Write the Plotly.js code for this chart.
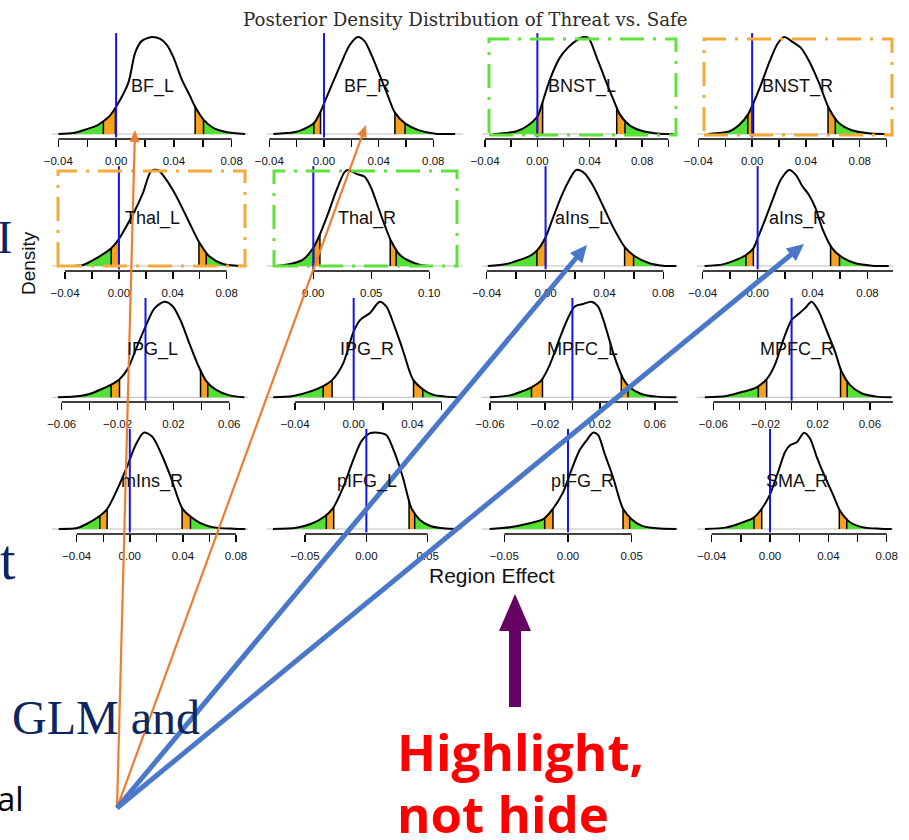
<!DOCTYPE html>
<html><head><meta charset="utf-8">
<script src="https://cdn.plot.ly/plotly-3.0.1.min.js"></script>
<style>html,body{margin:0;padding:0;background:#fff;} #chart{width:909px;height:840px;}</style>
</head><body><div id="chart"></div>
<script>
// ---------------- DATA ----------------
const regionNames = ['BF_L','BF_R','BNST_L','BNST_R','Thal_L','Thal_R','aIns_L','aIns_R',
                     'IPG_L','IPG_R','MPFC_L','MPFC_R','mIns_R','pIFG_L','pIFG_R','SMA_R'];

// posterior density curves (x = region effect, y = density relative to the peak)
const densityX = [
  [-0.0399,-0.0295,-0.0203,-0.0134,-0.0088,-0.0042,0,0.0085,0.0132,0.0178,0.0247,0.0305,0.0351,0.0397,0.0455,0.0512,0.0547,0.0605,0.067,0.076,0.0893],
  [-0.037,-0.022,-0.0148,-0.0074,-0.0025,0.0012,0.0074,0.0123,0.0185,0.0247,0.0296,0.0346,0.0407,0.0469,0.0519,0.0593,0.0691,0.0815,0.096],
  [-0.0336,-0.0158,-0.0081,0,0.0033,0.0097,0.0173,0.0237,0.030,0.0351,0.039,0.0453,0.0517,0.058,0.0631,0.0707,0.081,0.094,0.104],
  [-0.0326,-0.0167,-0.0093,-0.0032,0.0005,0.0066,0.0128,0.0189,0.0238,0.030,0.0361,0.0422,0.0496,0.0569,0.0643,0.0741,0.0864,0.0986],
  [-0.0428,-0.0267,-0.0168,-0.0057,0,0.0054,0.0116,0.0178,0.024,0.029,0.0351,0.0413,0.0475,0.0537,0.0599,0.0673,0.0772,0.0933],
  [-0.0314,-0.0171,-0.0086,0,0.0057,0.0129,0.02,0.0271,0.03,0.0371,0.0443,0.05,0.0557,0.0614,0.0671,0.0743,0.0829,0.0914,0.1],
  [-0.0392,-0.0267,-0.02,-0.0109,-0.0059,0,0.005,0.0106,0.0152,0.0208,0.0265,0.0321,0.0389,0.0457,0.0537,0.0604,0.0706,0.0797,0.0888],
  [-0.0386,-0.0253,-0.0157,-0.0085,-0.0031,0,0.0048,0.0109,0.0169,0.0229,0.0278,0.0326,0.0374,0.0422,0.0471,0.0543,0.0616,0.0712,0.0833,0.0954],
  [-0.0627,-0.0472,-0.04,-0.0317,-0.0246,-0.0186,-0.0126,-0.0067,0,0.0064,0.0136,0.0196,0.0255,0.0315,0.0375,0.0435,0.0506,0.0601,0.0708],
  [-0.0548,-0.0412,-0.0299,-0.0208,-0.0147,-0.0073,0,0.0045,0.0113,0.0177,0.0222,0.0279,0.0335,0.0403,0.0471,0.0539,0.063,0.0709],
  [-0.0601,-0.0456,-0.0371,-0.0298,-0.0225,-0.0165,-0.0092,-0.0032,0.0017,0.0078,0.0138,0.0186,0.0223,0.0259,0.0296,0.0332,0.0368,0.0417,0.0502,0.0611,0.0756],
  [-0.0664,-0.0498,-0.037,-0.0268,-0.0191,-0.0128,-0.0064,0,0.0051,0.0102,0.0153,0.0204,0.0268,0.0332,0.0383,0.0447,0.0536,0.0651,0.0766],
  [-0.0535,-0.0397,-0.0321,-0.0233,-0.0171,-0.0095,-0.002,0.0043,0.0105,0.0168,0.0231,0.0306,0.0394,0.0457,0.0532,0.0633,0.0783,0.0871],
  [-0.0761,-0.0571,-0.0448,-0.034,-0.0272,-0.019,-0.0109,-0.0041,0.0027,0.0095,0.0163,0.0231,0.0299,0.0367,0.0435,0.0516,0.0625,0.0747],
  [-0.0615,-0.0458,-0.0327,-0.0191,-0.0118,-0.0039,0.0026,0.0092,0.0157,0.0196,0.0236,0.0288,0.0353,0.0432,0.0497,0.0576,0.0694,0.0851],
  [-0.0446,-0.0297,-0.0206,-0.0114,-0.0057,0,0.0057,0.0103,0.0137,0.0183,0.0233,0.0274,0.032,0.0377,0.0434,0.048,0.0549,0.064,0.0754,0.0834]
];
const densityY = [
  [0,0.01,0.05,0.086,0.131,0.19,0.28,0.53,0.84,0.96,1.0,0.98,0.92,0.79,0.56,0.39,0.28,0.148,0.065,0.02,0],
  [0,0.017,0.05,0.11,0.23,0.355,0.56,0.72,0.91,1.0,0.96,0.82,0.61,0.39,0.22,0.11,0.04,0.003,0],
  [0,0.028,0.08,0.18,0.3,0.566,0.79,0.896,0.965,1.0,0.99,0.79,0.566,0.357,0.2,0.087,0.028,0.003,0],
  [0,0.028,0.097,0.2,0.305,0.51,0.74,0.93,1.0,0.95,0.89,0.755,0.53,0.27,0.115,0.038,0.007,0],
  [0,0.01,0.08,0.185,0.28,0.41,0.57,0.76,0.99,1.0,0.9,0.76,0.59,0.41,0.24,0.098,0.021,0],
  [0,0.028,0.069,0.19,0.33,0.55,0.79,0.98,1.0,0.96,0.93,0.81,0.62,0.43,0.26,0.12,0.052,0.014,0],
  [0,0.02,0.052,0.104,0.16,0.3,0.5,0.72,0.87,1.0,0.965,0.84,0.63,0.41,0.2,0.104,0.028,0.003,0],
  [0,0.017,0.063,0.115,0.184,0.29,0.46,0.69,0.9,1.0,0.95,0.83,0.74,0.6,0.39,0.184,0.09,0.028,0.003,0],
  [0,0.014,0.035,0.084,0.133,0.19,0.30,0.51,0.74,0.93,1.0,0.95,0.79,0.56,0.34,0.17,0.077,0.02,0],
  [0,0.014,0.059,0.118,0.18,0.35,0.69,0.81,0.885,1.0,0.95,0.74,0.495,0.19,0.084,0.028,0.007,0],
  [0,0.02,0.06,0.105,0.18,0.34,0.62,0.83,0.95,0.976,1.0,0.95,0.82,0.65,0.47,0.32,0.2,0.105,0.035,0.007,0],
  [0,0.014,0.059,0.105,0.19,0.34,0.6,0.81,0.87,0.93,1.0,0.91,0.7,0.48,0.27,0.13,0.042,0.007,0],
  [0,0.01,0.055,0.13,0.207,0.41,0.65,0.87,1.0,0.96,0.8,0.55,0.217,0.13,0.062,0.017,0.003,0],
  [0,0.014,0.055,0.13,0.217,0.43,0.71,0.91,0.993,1.0,0.976,0.79,0.53,0.217,0.097,0.034,0.007,0],
  [0,0.017,0.052,0.105,0.21,0.38,0.61,0.82,0.94,1.0,0.976,0.78,0.54,0.21,0.105,0.035,0.007,0],
  [0,0.017,0.059,0.115,0.21,0.36,0.6,0.8,0.87,0.9,1.0,0.94,0.75,0.54,0.35,0.19,0.07,0.017,0.003,0]
];
// tail cut points: [outer low, inner low, inner high, outer high]
const tailCuts = [
  [-0.0088,-0.0005,0.0547,0.0605],[-0.0074,-0.0025,0.0519,0.0593],[0.0,0.004,0.0606,0.0669],[-0.0032,0.001,0.0564,0.0618],
  [-0.0057,0,0.0594,0.0648],[0.0003,0.0057,0.0663,0.0714],[-0.0059,0,0.0537,0.0598],[-0.0085,-0.0031,0.0531,0.0596],
  [-0.0246,-0.0186,0.0394,0.0446],[-0.0208,-0.0147,0.0408,0.0471],[-0.0298,-0.0218,0.0356,0.0405],[-0.0255,-0.0191,0.0375,0.0426],
  [-0.0226,-0.0171,0.0394,0.0457],[-0.0326,-0.0266,0.0348,0.0394],[-0.0183,-0.0118,0.0432,0.0484],[-0.011,-0.0057,0.0475,0.0526]
];
const ticksA = [-0.04,-0.02,0,0.02,0.04,0.06,0.08];
const labelsA = ['\u22120.04','','0.00','','0.04','','0.08'];
const ticksB = [-0.04,-0.02,0,0.02,0.04,0.06,0.08,0.10];
const labelsB = ['\u22120.04','','0.00','','0.04','','0.08',''];
const ticksC = [-0.06,-0.04,-0.02,0,0.02,0.04,0.06];
const labelsC = ['\u22120.06','','\u22120.02','','0.02','','0.06'];
const ticksD = [-0.06,-0.04,-0.02,0,0.02,0.04,0.06,0.08];
const labelsD = ['\u22120.06','','\u22120.02','','0.02','','0.06',''];
const ticksE = [-0.04,-0.02,0,0.02,0.04,0.06];
const labelsE = ['\u22120.04','','0.00','','0.04',''];
const ticksF = [-0.05,0,0.05];
const labelsF = ['\u22120.05','0.00','0.05'];
const ticksG = [0,0.05,0.10];
const labelsG = ['0.00','0.05','0.10'];
const tickValues = [ticksA,ticksA,ticksB,ticksB, ticksA,ticksG,ticksA,ticksB, ticksC,ticksE,ticksD,ticksD, ticksA,ticksF,ticksF,ticksA];
const tickLabels = [labelsA,labelsA,labelsB,labelsB, labelsA,labelsG,labelsA,labelsB, labelsC,labelsE,labelsD,labelsD, labelsA,labelsF,labelsF,labelsA];

// ---------------- LAYOUT GEOMETRY ----------------
const W = 909, H = 840;
const colLeft = [52, 267, 482, 697], colW = 196;
const rowBase = [134, 266, 397.3, 529], rowPeak = [37, 170, 301.7, 432.7];
const rowTop = [33, 166, 298, 429], axisPx = [139, 271, 402, 534];
const tickAnchorPx = [[58.3,231.7],[269.3,433.3],[485,668.3],[698.3,886.7],
                      [65,226.7],[313.3,429.3],[486.7,663.3],[702.7,895],
                      [61.7,229.3],[295,441.7],[490,682.3],[713.3,896],
                      [76.7,236],[305,427.7],[504.3,631.7],[711.7,886.7]];
const GREEN = '#52e032', ORANGE = '#f5a21f', BLUE = '#1515e8';
const SANS = 'Liberation Sans, Arial, Helvetica, sans-serif';

function interp(xs, ys, x) {
  for (let k = 0; k < xs.length - 1; k++) {
    if (x >= xs[k] && x <= xs[k+1]) {
      const t = (x - xs[k]) / (xs[k+1] - xs[k]);
      return ys[k] + t * (ys[k+1] - ys[k]);
    }
  }
  return 0;
}
const px = (x) => x / W, py = (y) => 1 - y / H;

const traces = [], shapes = [], annotations = [];
const layout = {
  width: W, height: H, margin: {l:0, r:0, t:0, b:0},
  paper_bgcolor: '#ffffff', plot_bgcolor: 'rgba(0,0,0,0)', showlegend: false,
  font: {family: SANS, color: '#000'}, shapes, annotations, hovermode: false
};

regionNames.forEach((name, i) => {
  const r = Math.floor(i / 4), c = i % 4;
  const sfx = i === 0 ? '' : String(i + 1);
  const xa = 'x' + sfx, ya = 'y' + sfx;
  const xs = densityX[i], ys = densityY[i], cuts = tailCuts[i], tv = tickValues[i];
  const p0 = tickAnchorPx[i][0], p1 = tickAnchorPx[i][1];
  const v0 = tv[0], v1 = tv[tv.length - 1];
  const s = (v1 - v0) / (p1 - p0);
  const L = colLeft[c], R = colLeft[c] + colW;
  layout['xaxis' + sfx] = {
    domain: [L / W, R / W], range: [v0 + (L - p0) * s, v0 + (R - p0) * s], anchor: ya,
    tickmode: 'array', tickvals: tv, ticktext: tickLabels[i], ticks: 'outside', ticklen: 7,
    tickwidth: 1.4, tickcolor: '#000', showline: false, showgrid: false, zeroline: false,
    tickfont: {size: 11.5, color: '#111', family: SANS}, ticklabelstandoff: 4, fixedrange: true
  };
  const val = (p) => (rowBase[r] - p) / (rowBase[r] - rowPeak[r]);
  layout['yaxis' + sfx] = {
    domain: [1 - axisPx[r] / H, 1 - rowTop[r] / H], range: [val(axisPx[r]), val(rowTop[r])],
    anchor: xa, visible: false, fixedrange: true
  };
  // tail shading
  const segs = [[xs[0], cuts[0], GREEN], [cuts[0], cuts[1], ORANGE], [cuts[2], cuts[3], ORANGE], [cuts[3], xs[xs.length-1], GREEN]];
  segs.forEach(([a, b, col]) => {
    const sx = [a], sy = [interp(xs, ys, a)];
    xs.forEach((x, k) => { if (x > a && x < b) { sx.push(x); sy.push(ys[k]); } });
    sx.push(b); sy.push(interp(xs, ys, b));
    traces.push({x: sx, y: sy, xaxis: xa, yaxis: ya, mode: 'lines', fill: 'tozeroy', fillcolor: col,
      line: {color: col, width: 0.5, shape: 'spline', smoothing: 0.8}, hoverinfo: 'skip'});
  });
  const ex = [], ey = [];
  cuts.forEach(q => { ex.push(q, q, null); ey.push(0, interp(xs, ys, q), null); });
  traces.push({x: ex, y: ey, xaxis: xa, yaxis: ya, mode: 'lines', line: {color: '#000', width: 1.5}, hoverinfo: 'skip'});
  traces.push({x: xs, y: ys, xaxis: xa, yaxis: ya, mode: 'lines',
    line: {color: '#000', width: 2, shape: 'spline', smoothing: 0.8}, hoverinfo: 'skip'});

  shapes.push({type: 'line', layer: 'below', xref: xa + ' domain', yref: ya, x0: 0, x1: 1, y0: 0, y1: 0,
    line: {color: '#bdbdbd', width: 1}});
  shapes.push({type: 'line', xref: xa, yref: ya + ' domain', x0: v0, x1: v1, y0: 0, y1: 0,
    line: {color: '#000', width: 1.5}});
  shapes.push({type: 'line', xref: xa, yref: ya, x0: 0, x1: 0, y0: -0.035, y1: 1.04,
    line: {color: BLUE, width: 2}});
  annotations.push({xref: 'paper', yref: 'paper', x: px(152 + 215 * c), y: py(rowBase[r] - 47.5),
    text: name, showarrow: false, xanchor: 'center', yanchor: 'middle', font: {size: 18, color: '#111', family: SANS}});
});

// dashed highlight boxes
function rect(x0, y0, x1, y1, col) {
  shapes.push({type: 'rect', xref: 'paper', yref: 'paper', x0: px(x0), x1: px(x1), y0: py(y1), y1: py(y0),
    line: {color: col, width: 3, dash: '24px,9px,3px,9px'}, fillcolor: 'rgba(0,0,0,0)'});
}
rect(489, 39, 676, 135, '#5ee23c');
rect(704, 39, 892, 135, '#f4aa3a');
rect(58, 171, 245, 266, '#f4aa3a');
rect(274, 171, 457, 266, '#5ee23c');

// arrows
function arrow(tail, tip, lw, headLen, headHalf, color) {
  const dx = tip[0] - tail[0], dy = tip[1] - tail[1];
  const len = Math.hypot(dx, dy), ux = dx / len, uy = dy / len;
  const bx = tip[0] - ux * headLen, by = tip[1] - uy * headLen;
  const nx = -uy, ny = ux;
  const pts = [tip, [bx + nx * headHalf, by + ny * headHalf], [bx - nx * headHalf, by - ny * headHalf]];
  shapes.push({type: 'line', xref: 'paper', yref: 'paper', x0: px(tail[0]), y0: py(tail[1]),
    x1: px(bx + ux * 2), y1: py(by + uy * 2), line: {color, width: lw}});
  shapes.push({type: 'path', xref: 'paper', yref: 'paper',
    path: 'M' + pts.map(p => px(p[0]) + ',' + py(p[1])).join(' L') + ' Z', fillcolor: color, line: {color, width: 0}});
}
const origin = [117, 808];
arrow(origin, [135, 130], 2.2, 12, 5, '#ee7d31');
arrow(origin, [366, 125], 2.2, 12, 5, '#ee7d31');
arrow(origin, [587, 245], 5, 17, 8, '#4a77c8');
arrow(origin, [804, 244], 5, 17, 8, '#4a77c8');
arrow([515, 707], [515, 594], 12, 37, 16, '#650065');

// texts
function txt(x, y, text, font, extra) {
  annotations.push(Object.assign({xref: 'paper', yref: 'paper', x: px(x), y: py(y), text, showarrow: false,
    xanchor: 'center', yanchor: 'middle', font}, extra || {}));
}
txt(465, 19, 'Posterior Density Distribution of Threat vs. Safe', {family: 'DejaVu Serif', size: 18.2, color: '#2a2a2a'});
txt(28, 263, 'Density', {family: SANS, size: 19, color: '#111'}, {textangle: -90});
txt(492, 575, 'Region Effect', {family: SANS, size: 21, color: '#111'});
const NAVY = '#0b2660';
txt(4, 237, 'I', {family: 'Liberation Serif', size: 46, color: NAVY});
txt(8, 560, 't', {family: 'Liberation Serif', size: 56, color: NAVY});
txt(10, 717, 'GLM and', {family: 'Liberation Serif', size: 48, color: NAVY}, {xanchor: 'left'});
txt(26, 798, 'al', {family: 'Open Sans, Liberation Sans, sans-serif', size: 33, color: '#000'}, {xanchor: 'right'});
txt(395, 751, 'Highlight,', {family: 'Open Sans, Noto Sans, sans-serif', size: 51, color: '#ff0000', weight: 700}, {xanchor: 'left'});
txt(395, 813, 'not hide', {family: 'Open Sans, Noto Sans, sans-serif', size: 51, color: '#ff0000', weight: 700}, {xanchor: 'left'});

Plotly.newPlot('chart', traces, layout, {staticPlot: true, displayModeBar: false});
</script>
</body></html>
